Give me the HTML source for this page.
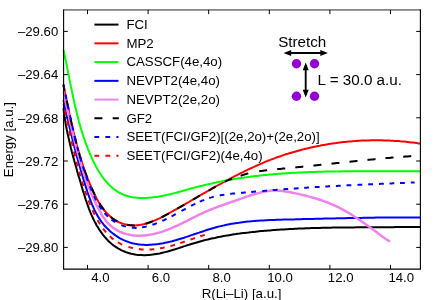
<!DOCTYPE html>
<html><head><meta charset="utf-8"><style>
html,body{margin:0;padding:0;background:#fff;}
svg{display:block;}
text{font-family:"Liberation Sans",sans-serif;fill:#000;}
</style></head><body>
<svg width="436" height="300" viewBox="0 0 436 300" style="will-change:transform">
<rect width="436" height="300" fill="#fff"/>
<defs><clipPath id="c"><rect x="62.4" y="9.95" width="357.99999999999994" height="259.15000000000003"/></clipPath></defs>
<g clip-path="url(#c)">
<path d="M63.3 108.0L63.5 109.8L63.8 111.6L64.0 113.3L64.3 115.1L64.5 116.9L64.8 118.6L65.1 120.4L65.4 122.2L65.7 123.9L66.0 125.7L66.4 127.5L66.7 129.2L67.1 131.0L67.4 132.7L67.8 134.5L68.2 136.3L68.6 138.0L69.0 139.8L69.4 141.5L69.8 143.2L70.2 145.0L70.6 146.7L71.0 148.5L71.5 150.2L71.9 151.9L72.4 153.7L72.8 155.4L73.3 157.1L73.8 158.9L74.2 160.6L74.7 162.3L75.2 164.1L75.7 165.8L76.2 167.5L76.7 169.2L77.1 171.0L77.6 172.7L78.1 174.4L78.6 176.1L79.2 177.8L79.7 179.6L80.2 181.3L80.7 183.0L81.2 184.7L81.7 186.4L82.2 188.2L82.7 189.9L83.2 191.6L83.8 193.3L84.3 195.0L84.8 196.7L85.4 198.4L85.9 200.1L86.5 201.8L87.1 203.5L87.7 205.2L88.3 206.9L88.9 208.6L89.6 210.3L90.2 211.9L90.9 213.6L91.6 215.2L92.4 216.9L93.1 218.5L93.9 220.1L94.7 221.7L95.6 223.3L96.4 224.9L97.3 226.4L98.3 227.9L99.2 229.5L100.2 230.9L101.2 232.4L102.3 233.9L103.4 235.3L104.5 236.7L105.7 238.0L106.9 239.4L108.1 240.7L109.4 241.9L110.7 243.1L112.1 244.3L113.5 245.4L115.0 246.4L116.5 247.4L118.0 248.4L119.5 249.2L121.1 250.1L122.8 250.8L124.4 251.5L126.1 252.2L127.8 252.7L129.5 253.2L131.2 253.7L133.0 254.1L134.8 254.4L136.5 254.7L138.3 254.9L140.1 255.1L141.9 255.1L143.7 255.2L145.5 255.2L147.3 255.1L149.0 255.0L150.8 254.8L152.6 254.6L154.4 254.3L156.2 254.0L157.9 253.7L159.7 253.4L161.4 253.0L163.2 252.6L164.9 252.1L166.6 251.7L168.4 251.2L170.1 250.7L171.8 250.2L173.5 249.7L175.2 249.2L177.0 248.6L178.7 248.1L180.4 247.5L182.1 247.0L183.8 246.4L185.5 245.9L187.2 245.3L188.9 244.8L190.6 244.2L192.3 243.7L194.0 243.2L195.8 242.7L197.5 242.2L199.2 241.7L200.9 241.2L202.7 240.8L204.4 240.3L206.1 239.9L207.9 239.5L209.6 239.0L211.4 238.6L213.1 238.2L214.9 237.9L216.6 237.5L218.4 237.1L220.1 236.8L221.9 236.4L223.7 236.1L225.4 235.8L227.2 235.5L229.0 235.2L230.7 234.9L232.5 234.6L234.3 234.3L236.1 234.1L237.8 233.8L239.6 233.6L241.4 233.3L243.2 233.1L244.9 232.9L246.7 232.7L248.5 232.5L250.3 232.2L252.1 232.1L253.8 231.9L255.6 231.7L257.4 231.5L259.2 231.3L261.0 231.1L262.8 231.0L264.5 230.8L266.3 230.7L268.1 230.5L269.9 230.4L271.7 230.2L273.5 230.1L275.3 230.0L277.1 229.8L278.8 229.7L280.6 229.6L282.4 229.5L284.2 229.4L286.0 229.3L287.8 229.2L289.6 229.1L291.4 229.0L293.2 228.9L294.9 228.8L296.7 228.7L298.5 228.6L300.3 228.5L302.1 228.5L303.9 228.4L305.7 228.3L307.5 228.3L309.3 228.2L311.1 228.1L312.9 228.1L314.7 228.0L316.4 228.0L318.2 227.9L320.0 227.9L321.8 227.8L323.6 227.8L325.4 227.8L327.2 227.7L329.0 227.7L330.8 227.7L332.6 227.6L334.4 227.6L336.2 227.6L338.0 227.5L339.7 227.5L341.5 227.5L343.3 227.5L345.1 227.4L346.9 227.4L348.7 227.4L350.5 227.4L352.3 227.4L354.1 227.4L355.9 227.3L357.7 227.3L359.5 227.3L361.3 227.3L363.1 227.3L364.8 227.3L366.6 227.3L368.4 227.3L370.2 227.3L372.0 227.3L373.8 227.2L375.6 227.2L377.4 227.2L379.2 227.2L381.0 227.2L382.8 227.2L384.6 227.2L386.4 227.2L388.1 227.2L389.9 227.2L391.7 227.2L393.5 227.2L395.3 227.1L397.1 227.1L398.9 227.1L400.7 227.1L402.5 227.1L404.3 227.1L406.1 227.1L407.9 227.0L409.7 227.0L411.5 227.0L413.2 227.0L415.0 226.9L416.8 226.9L418.6 226.9L420.4 226.9L422.2 226.8L424.0 226.8" fill="none" stroke="#000" stroke-width="2"/>
<path d="M63.3 84.5L63.7 86.3L64.1 88.1L64.4 89.9L64.8 91.7L65.2 93.5L65.6 95.3L66.0 97.1L66.3 98.9L66.7 100.7L67.1 102.5L67.4 104.3L67.8 106.1L68.2 107.9L68.6 109.7L69.0 111.5L69.3 113.3L69.7 115.1L70.1 116.9L70.5 118.7L70.9 120.5L71.3 122.3L71.7 124.1L72.1 125.9L72.5 127.7L72.9 129.4L73.3 131.2L73.8 133.0L74.2 134.8L74.6 136.6L75.1 138.4L75.5 140.2L76.0 141.9L76.4 143.7L76.9 145.5L77.4 147.3L77.9 149.0L78.4 150.8L78.9 152.6L79.4 154.3L79.9 156.1L80.5 157.9L81.0 159.6L81.6 161.4L82.1 163.1L82.7 164.9L83.3 166.6L83.9 168.3L84.5 170.1L85.1 171.8L85.8 173.5L86.4 175.3L87.1 177.0L87.7 178.7L88.4 180.4L89.1 182.1L89.8 183.8L90.5 185.5L91.3 187.2L92.0 188.9L92.8 190.5L93.5 192.2L94.3 193.9L95.1 195.5L96.0 197.2L96.8 198.8L97.7 200.4L98.6 202.0L99.6 203.6L100.6 205.1L101.6 206.6L102.7 208.1L103.8 209.6L104.9 211.0L106.1 212.4L107.4 213.8L108.7 215.1L110.0 216.3L111.4 217.5L112.9 218.6L114.4 219.7L116.0 220.6L117.6 221.5L119.2 222.3L120.9 223.0L122.7 223.6L124.4 224.1L126.2 224.6L128.0 224.9L129.8 225.2L131.7 225.3L133.5 225.4L135.4 225.4L137.2 225.2L139.0 225.0L140.8 224.8L142.6 224.4L144.4 224.0L146.2 223.5L148.0 223.0L149.7 222.4L151.4 221.8L153.2 221.1L154.9 220.4L156.5 219.7L158.2 218.9L159.9 218.1L161.5 217.3L163.1 216.5L164.8 215.6L166.4 214.7L168.0 213.8L169.6 212.9L171.2 212.0L172.8 211.1L174.4 210.2L176.0 209.3L177.6 208.4L179.2 207.5L180.8 206.6L182.4 205.7L184.0 204.8L185.6 203.8L187.2 202.9L188.8 202.0L190.3 201.1L191.9 200.2L193.5 199.2L195.1 198.3L196.7 197.4L198.3 196.5L199.9 195.5L201.5 194.6L203.1 193.7L204.7 192.8L206.3 191.9L207.9 191.0L209.5 190.1L211.1 189.1L212.7 188.2L214.3 187.3L215.9 186.4L217.5 185.5L219.1 184.6L220.7 183.8L222.3 182.9L223.9 182.0L225.5 181.1L227.1 180.2L228.8 179.4L230.4 178.5L232.0 177.6L233.6 176.8L235.3 175.9L236.9 175.1L238.5 174.3L240.2 173.4L241.8 172.6L243.5 171.8L245.1 171.0L246.8 170.2L248.4 169.4L250.1 168.6L251.8 167.8L253.4 167.1L255.1 166.3L256.8 165.5L258.5 164.8L260.2 164.1L261.8 163.3L263.5 162.6L265.2 161.9L266.9 161.2L268.6 160.5L270.4 159.9L272.1 159.2L273.8 158.6L275.5 157.9L277.2 157.3L279.0 156.7L280.7 156.1L282.5 155.5L284.2 154.9L285.9 154.3L287.7 153.8L289.5 153.2L291.2 152.7L293.0 152.2L294.7 151.7L296.5 151.2L298.3 150.7L300.1 150.2L301.8 149.7L303.6 149.3L305.4 148.8L307.2 148.4L309.0 148.0L310.8 147.6L312.6 147.2L314.4 146.8L316.2 146.4L318.0 146.0L319.8 145.7L321.6 145.3L323.4 145.0L325.2 144.7L327.0 144.4L328.8 144.1L330.6 143.8L332.4 143.5L334.3 143.2L336.1 143.0L337.9 142.7L339.7 142.5L341.6 142.3L343.4 142.1L345.2 141.9L347.0 141.7L348.9 141.5L350.7 141.4L352.5 141.2L354.4 141.1L356.2 140.9L358.0 140.8L359.9 140.7L361.7 140.6L363.5 140.5L365.4 140.5L367.2 140.4L369.1 140.4L370.9 140.3L372.7 140.3L374.6 140.3L376.4 140.3L378.3 140.3L380.1 140.3L381.9 140.3L383.8 140.4L385.6 140.4L387.4 140.5L389.3 140.6L391.1 140.7L393.0 140.8L394.8 140.9L396.6 141.0L398.5 141.1L400.3 141.3L402.1 141.4L403.9 141.6L405.8 141.8L407.6 142.0L409.4 142.2L411.3 142.4L413.1 142.6L414.9 142.8L416.7 143.1L418.6 143.4L420.4 143.6L422.2 143.9L424.0 144.2" fill="none" stroke="#ff0000" stroke-width="2"/>
<path d="M63.3 49.5L63.7 51.3L64.1 53.0L64.5 54.8L64.9 56.5L65.2 58.3L65.6 60.0L66.0 61.8L66.3 63.6L66.7 65.3L67.1 67.1L67.4 68.8L67.8 70.6L68.1 72.4L68.5 74.1L68.8 75.9L69.2 77.6L69.5 79.4L69.9 81.2L70.2 82.9L70.6 84.7L70.9 86.5L71.3 88.2L71.7 90.0L72.0 91.7L72.4 93.5L72.7 95.3L73.1 97.0L73.5 98.8L73.9 100.5L74.3 102.3L74.6 104.0L75.0 105.8L75.4 107.6L75.9 109.3L76.3 111.0L76.7 112.8L77.1 114.5L77.6 116.3L78.0 118.0L78.5 119.8L78.9 121.5L79.4 123.2L79.9 125.0L80.4 126.7L80.9 128.4L81.4 130.1L82.0 131.8L82.5 133.6L83.1 135.3L83.6 137.0L84.2 138.7L84.8 140.4L85.4 142.1L86.0 143.8L86.6 145.4L87.3 147.1L87.9 148.8L88.6 150.5L89.3 152.1L89.9 153.8L90.7 155.4L91.4 157.1L92.1 158.7L92.9 160.4L93.7 162.0L94.5 163.6L95.3 165.2L96.1 166.8L97.0 168.3L97.9 169.9L98.8 171.4L99.8 173.0L100.8 174.5L101.8 176.0L102.8 177.4L103.9 178.8L105.0 180.3L106.2 181.6L107.4 183.0L108.6 184.3L109.9 185.6L111.2 186.8L112.5 188.0L113.9 189.1L115.4 190.2L116.9 191.2L118.4 192.1L119.9 193.0L121.6 193.8L123.2 194.6L124.9 195.2L126.6 195.8L128.3 196.3L130.0 196.7L131.8 197.1L133.6 197.4L135.4 197.6L137.2 197.8L138.9 197.9L140.7 198.0L142.5 198.0L144.3 198.0L146.1 197.9L147.9 197.8L149.7 197.7L151.5 197.5L153.3 197.3L155.1 197.1L156.9 196.9L158.6 196.6L160.4 196.3L162.2 195.9L163.9 195.6L165.7 195.2L167.4 194.8L169.2 194.4L170.9 194.0L172.7 193.6L174.4 193.1L176.2 192.7L177.9 192.2L179.6 191.7L181.4 191.2L183.1 190.7L184.8 190.3L186.6 189.8L188.3 189.3L190.0 188.8L191.8 188.3L193.5 187.9L195.2 187.4L197.0 187.0L198.7 186.5L200.5 186.1L202.2 185.7L203.9 185.2L205.7 184.8L207.4 184.4L209.2 184.0L210.9 183.6L212.7 183.2L214.5 182.8L216.2 182.5L218.0 182.1L219.7 181.7L221.5 181.4L223.3 181.0L225.0 180.7L226.8 180.4L228.6 180.1L230.3 179.7L232.1 179.4L233.9 179.1L235.7 178.8L237.4 178.6L239.2 178.3L241.0 178.0L242.8 177.8L244.5 177.5L246.3 177.3L248.1 177.0L249.9 176.8L251.7 176.5L253.4 176.3L255.2 176.1L257.0 175.9L258.8 175.7L260.6 175.5L262.4 175.3L264.2 175.1L265.9 174.9L267.7 174.8L269.5 174.6L271.3 174.4L273.1 174.3L274.9 174.1L276.7 174.0L278.5 173.8L280.3 173.7L282.1 173.5L283.9 173.4L285.7 173.3L287.4 173.2L289.2 173.1L291.0 173.0L292.8 172.8L294.6 172.7L296.4 172.7L298.2 172.6L300.0 172.5L301.8 172.4L303.6 172.3L305.4 172.2L307.2 172.2L309.0 172.1L310.8 172.0L312.6 172.0L314.4 171.9L316.2 171.8L318.0 171.8L319.8 171.7L321.6 171.7L323.4 171.7L325.2 171.6L326.9 171.6L328.7 171.5L330.5 171.5L332.3 171.5L334.1 171.5L335.9 171.4L337.7 171.4L339.5 171.4L341.3 171.4L343.1 171.3L344.9 171.3L346.7 171.3L348.5 171.3L350.3 171.3L352.1 171.3L353.9 171.3L355.7 171.3L357.5 171.3L359.3 171.3L361.1 171.3L362.9 171.3L364.7 171.3L366.5 171.3L368.3 171.3L370.1 171.3L371.9 171.3L373.7 171.3L375.5 171.3L377.3 171.3L379.1 171.3L380.9 171.3L382.7 171.3L384.5 171.3L386.3 171.3L388.1 171.3L389.9 171.3L391.6 171.3L393.4 171.3L395.2 171.3L397.0 171.3L398.8 171.3L400.6 171.3L402.4 171.3L404.2 171.3L406.0 171.3L407.8 171.3L409.6 171.3L411.4 171.3L413.2 171.3L415.0 171.3L416.8 171.3L418.6 171.3L420.4 171.3L422.2 171.3L424.0 171.3" fill="none" stroke="#00ff00" stroke-width="2"/>
<path d="M63.3 100.0L63.7 101.7L64.1 103.5L64.5 105.2L64.9 107.0L65.2 108.7L65.6 110.4L66.0 112.2L66.4 113.9L66.8 115.6L67.2 117.4L67.6 119.1L68.0 120.8L68.4 122.6L68.8 124.3L69.3 126.1L69.7 127.8L70.1 129.5L70.5 131.2L70.9 133.0L71.3 134.7L71.8 136.4L72.2 138.2L72.6 139.9L73.1 141.6L73.5 143.4L73.9 145.1L74.4 146.8L74.8 148.5L75.3 150.3L75.7 152.0L76.2 153.7L76.7 155.4L77.1 157.1L77.6 158.9L78.1 160.6L78.5 162.3L79.0 164.0L79.5 165.7L80.0 167.4L80.5 169.1L81.0 170.9L81.5 172.6L82.0 174.3L82.5 176.0L83.0 177.7L83.5 179.4L84.0 181.1L84.6 182.8L85.1 184.5L85.6 186.2L86.2 187.9L86.7 189.6L87.2 191.3L87.8 193.0L88.4 194.7L89.0 196.4L89.6 198.0L90.2 199.7L90.8 201.4L91.5 203.0L92.1 204.7L92.8 206.3L93.6 207.9L94.3 209.6L95.1 211.2L95.9 212.7L96.8 214.3L97.6 215.9L98.6 217.4L99.5 218.9L100.5 220.4L101.5 221.8L102.6 223.2L103.7 224.6L104.9 226.0L106.1 227.3L107.3 228.6L108.6 229.8L109.9 231.0L111.3 232.2L112.6 233.3L114.1 234.4L115.5 235.4L117.0 236.4L118.5 237.4L120.0 238.3L121.6 239.1L123.2 239.9L124.8 240.6L126.5 241.3L128.1 241.9L129.8 242.5L131.5 243.0L133.3 243.4L135.0 243.8L136.8 244.1L138.5 244.4L140.3 244.6L142.1 244.7L143.9 244.8L145.6 244.9L147.4 244.9L149.2 244.8L151.0 244.8L152.8 244.6L154.5 244.5L156.3 244.3L158.1 244.1L159.8 243.8L161.6 243.5L163.3 243.2L165.1 242.8L166.8 242.4L168.6 242.1L170.3 241.6L172.0 241.2L173.7 240.7L175.5 240.3L177.2 239.8L178.9 239.3L180.6 238.7L182.3 238.2L184.0 237.7L185.7 237.1L187.4 236.6L189.1 236.0L190.7 235.4L192.4 234.9L194.1 234.3L195.8 233.7L197.5 233.1L199.2 232.6L200.9 232.0L202.6 231.5L204.3 230.9L206.0 230.3L207.6 229.8L209.3 229.3L211.1 228.8L212.8 228.3L214.5 227.8L216.2 227.3L217.9 226.8L219.6 226.4L221.4 226.0L223.1 225.6L224.8 225.2L226.6 224.8L228.3 224.4L230.1 224.1L231.8 223.8L233.6 223.5L235.3 223.2L237.1 222.9L238.9 222.7L240.6 222.4L242.4 222.2L244.2 222.0L245.9 221.8L247.7 221.6L249.5 221.4L251.3 221.2L253.0 221.1L254.8 220.9L256.6 220.8L258.4 220.7L260.1 220.6L261.9 220.5L263.7 220.4L265.5 220.3L267.3 220.2L269.0 220.1L270.8 220.0L272.6 219.9L274.4 219.9L276.2 219.8L277.9 219.8L279.7 219.7L281.5 219.7L283.3 219.6L285.1 219.6L286.8 219.5L288.6 219.5L290.4 219.4L292.2 219.4L294.0 219.4L295.7 219.3L297.5 219.3L299.3 219.2L301.1 219.2L302.9 219.1L304.7 219.1L306.4 219.1L308.2 219.0L310.0 219.0L311.8 218.9L313.6 218.9L315.3 218.8L317.1 218.8L318.9 218.8L320.7 218.7L322.5 218.7L324.2 218.6L326.0 218.6L327.8 218.5L329.6 218.5L331.4 218.5L333.1 218.4L334.9 218.4L336.7 218.3L338.5 218.3L340.3 218.3L342.1 218.2L343.8 218.2L345.6 218.2L347.4 218.1L349.2 218.1L351.0 218.1L352.7 218.0L354.5 218.0L356.3 218.0L358.1 217.9L359.9 217.9L361.6 217.9L363.4 217.8L365.2 217.8L367.0 217.8L368.8 217.7L370.6 217.7L372.3 217.7L374.1 217.7L375.9 217.6L377.7 217.6L379.5 217.6L381.2 217.6L383.0 217.6L384.8 217.5L386.6 217.5L388.4 217.5L390.2 217.5L391.9 217.5L393.7 217.5L395.5 217.4L397.3 217.4L399.1 217.4L400.8 217.4L402.6 217.4L404.4 217.4L406.2 217.4L408.0 217.4L409.7 217.4L411.5 217.4L413.3 217.4L415.1 217.4L416.9 217.4L418.7 217.4L420.4 217.4L422.2 217.4L424.0 217.4" fill="none" stroke="#0000ff" stroke-width="2"/>
<path d="M63.3 91.5L63.7 93.2L64.1 94.9L64.4 96.5L64.8 98.2L65.2 99.9L65.6 101.6L66.0 103.3L66.3 105.0L66.7 106.6L67.1 108.3L67.4 110.0L67.8 111.7L68.2 113.4L68.6 115.1L69.0 116.7L69.3 118.4L69.7 120.1L70.1 121.8L70.5 123.5L70.9 125.2L71.2 126.8L71.6 128.5L72.0 130.2L72.4 131.9L72.8 133.5L73.2 135.2L73.6 136.9L74.0 138.6L74.5 140.2L74.9 141.9L75.3 143.6L75.7 145.3L76.2 146.9L76.6 148.6L77.0 150.3L77.5 151.9L77.9 153.6L78.4 155.3L78.9 156.9L79.3 158.6L79.8 160.2L80.3 161.9L80.8 163.5L81.3 165.2L81.8 166.8L82.3 168.5L82.8 170.1L83.4 171.8L83.9 173.4L84.5 175.0L85.0 176.7L85.6 178.3L86.2 179.9L86.7 181.5L87.3 183.2L87.9 184.8L88.6 186.4L89.2 188.0L89.8 189.6L90.5 191.2L91.1 192.8L91.8 194.4L92.5 196.0L93.1 197.6L93.8 199.1L94.5 200.7L95.3 202.3L96.0 203.8L96.7 205.4L97.5 206.9L98.3 208.5L99.1 210.0L99.9 211.5L100.7 213.0L101.6 214.5L102.5 216.0L103.5 217.4L104.5 218.8L105.5 220.2L106.6 221.6L107.7 222.8L108.9 224.1L110.2 225.3L111.5 226.4L112.8 227.5L114.2 228.5L115.7 229.4L117.2 230.3L118.7 231.1L120.3 231.8L121.8 232.5L123.5 233.1L125.1 233.6L126.7 234.1L128.4 234.5L130.1 234.9L131.8 235.2L133.5 235.4L135.2 235.6L137.0 235.7L138.7 235.7L140.4 235.7L142.1 235.6L143.9 235.5L145.6 235.4L147.3 235.1L149.0 234.9L150.7 234.6L152.4 234.3L154.1 233.9L155.7 233.5L157.4 233.0L159.1 232.6L160.7 232.1L162.4 231.6L164.0 231.0L165.6 230.4L167.2 229.8L168.8 229.2L170.4 228.6L172.0 227.9L173.6 227.2L175.2 226.5L176.8 225.8L178.3 225.1L179.9 224.3L181.4 223.6L183.0 222.8L184.5 222.0L186.1 221.3L187.6 220.5L189.1 219.7L190.7 218.9L192.2 218.1L193.7 217.4L195.3 216.6L196.8 215.8L198.4 215.0L199.9 214.3L201.5 213.6L203.1 212.8L204.6 212.1L206.2 211.4L207.8 210.8L209.4 210.1L211.0 209.5L212.6 208.8L214.2 208.2L215.8 207.6L217.4 207.0L219.0 206.4L220.7 205.8L222.3 205.3L223.9 204.7L225.6 204.1L227.2 203.5L228.8 203.0L230.4 202.4L232.1 201.8L233.7 201.3L235.3 200.7L236.9 200.1L238.6 199.5L240.2 198.9L241.8 198.4L243.4 197.8L245.1 197.2L246.7 196.6L248.3 196.1L250.0 195.5L251.6 195.0L253.2 194.5L254.9 194.0L256.6 193.5L258.2 193.1L259.9 192.6L261.6 192.2L263.2 191.8L264.9 191.5L266.6 191.2L268.3 191.0L270.1 190.8L271.8 190.6L273.5 190.6L275.2 190.6L276.9 190.6L278.7 190.7L280.4 190.8L282.1 191.0L283.8 191.2L285.5 191.5L287.2 191.7L288.9 192.0L290.6 192.3L292.3 192.7L294.0 193.0L295.7 193.4L297.4 193.7L299.1 194.1L300.7 194.5L302.4 194.9L304.1 195.3L305.8 195.7L307.4 196.1L309.1 196.6L310.8 197.0L312.4 197.5L314.1 198.0L315.7 198.5L317.4 199.0L319.0 199.5L320.7 200.0L322.3 200.6L323.9 201.2L325.5 201.8L327.1 202.4L328.8 203.0L330.3 203.7L331.9 204.3L333.5 205.0L335.1 205.7L336.7 206.5L338.2 207.2L339.8 208.0L341.3 208.8L342.8 209.6L344.3 210.4L345.8 211.3L347.3 212.1L348.8 213.0L350.3 213.9L351.7 214.8L353.2 215.7L354.6 216.7L356.1 217.6L357.5 218.6L358.9 219.6L360.3 220.5L361.8 221.5L363.2 222.5L364.6 223.5L366.0 224.5L367.4 225.5L368.8 226.5L370.2 227.6L371.6 228.6L372.9 229.6L374.3 230.6L375.7 231.6L377.1 232.6L378.5 233.7L379.9 234.7L381.3 235.7L382.7 236.7L384.1 237.7L385.5 238.7L387.0 239.7L388.4 240.6L389.8 241.6" fill="none" stroke="#ee82ee" stroke-width="2.5"/>
<path d="M63.3 84.5L63.5 85.3L63.6 86.1L63.8 86.8L64.0 87.6L64.1 88.4L64.3 89.2L64.5 90.0L64.6 90.6M66.6 100.4L66.8 101.2L67.0 102.0L67.1 102.7L67.3 103.5L67.5 104.3L67.6 105.1L67.8 105.9L67.9 106.7L68.1 107.4L68.3 108.2M70.4 118.0L70.5 118.8L70.7 119.6L70.9 120.3L71.0 121.1L71.2 121.9L71.4 122.7L71.6 123.5L71.7 124.2L71.9 125.0L72.1 125.8M74.5 136.0L74.7 136.8L74.9 137.6L75.1 138.3L75.3 139.1L75.5 139.9L75.6 140.7L75.8 141.4L76.0 142.2L76.3 143.0L76.5 143.8M78.9 152.7L79.2 153.5L79.4 154.2L79.6 155.0L79.8 155.8L80.1 156.5L80.3 157.3L80.5 158.1L80.8 158.8L81.0 159.6L81.3 160.4M84.5 170.0L84.8 170.8L85.0 171.5L85.3 172.3L85.6 173.0L85.9 173.8L86.1 174.5L86.4 175.3L86.7 176.0L87.0 176.8L87.3 177.5M91.6 187.9L91.9 188.6L92.2 189.4L92.5 190.1L92.9 190.8L93.2 191.5L93.6 192.3L93.9 193.0L94.2 193.7L94.6 194.4L94.9 195.2M99.4 203.3L99.9 204.0L100.3 204.7L100.7 205.3L101.2 206.0L101.6 206.7L102.1 207.3L102.5 208.0L103.0 208.6L103.5 209.2L104.0 209.9M110.8 217.0L111.4 217.5L112.0 218.0L112.7 218.5L113.3 219.0L114.0 219.4L114.7 219.8L115.3 220.3L116.0 220.7L116.7 221.1L117.4 221.5M126.9 224.7L127.7 224.9L128.5 225.0L129.3 225.1L130.1 225.2L130.9 225.3L131.7 225.3L132.5 225.4L133.3 225.4L134.1 225.4L134.9 225.4M145.5 223.7L146.3 223.5L147.0 223.3L147.8 223.0L148.6 222.8L149.3 222.5L150.1 222.3L150.8 222.0L151.6 221.7L152.3 221.4L153.1 221.2M161.7 217.2L162.4 216.8L163.1 216.5L163.8 216.1L164.5 215.7L165.2 215.3L165.9 215.0L166.6 214.6L167.4 214.2L168.1 213.8L168.8 213.4M177.2 208.6L177.9 208.3L178.6 207.9L179.3 207.5L180.0 207.1L180.7 206.7L181.4 206.3L182.1 205.9L182.8 205.5L183.4 205.1L184.1 204.7M193.1 199.5L193.8 199.1L194.5 198.7L195.2 198.3L195.9 197.9L196.6 197.5L197.3 197.1L197.9 196.7L198.6 196.3L199.3 195.9L200.0 195.5M208.6 190.5L209.3 190.2L210.0 189.8L210.7 189.4L211.4 189.0L212.1 188.6L212.8 188.2L213.5 187.8L214.2 187.4L214.9 187.0L215.6 186.6M224.7 181.7L225.4 181.4L226.2 181.1L226.9 180.7L227.6 180.4L228.3 180.1L229.1 179.8L229.8 179.5L230.6 179.2L231.3 178.9L232.1 178.6M240.6 175.7L241.4 175.5L242.1 175.2L242.9 175.0L243.6 174.7L244.4 174.5L245.2 174.3L245.9 174.1L246.7 173.8L247.5 173.6L248.3 173.4M259.2 171.2L260.0 171.1L260.8 171.0L261.6 170.9L262.4 170.8L263.2 170.7L264.0 170.6L264.7 170.5L265.5 170.4L266.3 170.3L267.1 170.2M277.2 169.1L278.0 169.1L278.8 169.0L279.6 168.9L280.4 168.9L281.2 168.8L282.0 168.7L282.8 168.6L283.6 168.6L284.4 168.5L285.2 168.4M295.3 167.4L296.1 167.3L296.9 167.3L297.7 167.2L298.5 167.1L299.3 167.0L300.1 166.9L300.9 166.9L301.7 166.8L302.5 166.7L303.3 166.6M313.4 165.6L314.2 165.5L315.0 165.4L315.8 165.3L316.6 165.2L317.4 165.2L318.2 165.1L319.0 165.0L319.8 164.9L320.6 164.8L321.4 164.7M331.5 163.7L332.3 163.6L333.1 163.5L333.9 163.4L334.7 163.3L335.5 163.2L336.3 163.1L337.1 163.1L337.9 163.0L338.7 162.9L339.5 162.8M349.5 161.7L350.3 161.7L351.1 161.6L351.9 161.5L352.7 161.4L353.5 161.3L354.3 161.3L355.1 161.2L355.9 161.1L356.7 161.0L357.5 160.9M367.5 159.9L368.3 159.8L369.1 159.8L369.9 159.7L370.7 159.6L371.5 159.5L372.3 159.4L373.1 159.4L373.9 159.3L374.7 159.2L375.5 159.1M385.5 158.2L386.3 158.1L387.1 158.1L387.9 158.0L388.7 157.9L389.5 157.9L390.3 157.8L391.1 157.7L391.9 157.6L392.7 157.6L393.5 157.5M403.2 156.7L404.0 156.7L404.8 156.6L405.6 156.5L406.4 156.5L407.2 156.4L408.0 156.4L408.8 156.3L409.6 156.2L410.4 156.2L411.2 156.1" fill="none" stroke="#000" stroke-width="2"/>
<path d="M63.3 84.8L63.5 85.6L63.7 86.4L63.8 87.1L64.0 87.9L64.2 88.7L64.2 88.7M65.5 94.5L65.6 95.3L65.8 96.1L66.0 96.9L66.1 97.6L66.3 98.4L66.5 99.2L66.5 99.2M67.7 105.0L67.9 105.8L68.1 106.5L68.2 107.3L68.4 108.1L68.6 108.9L68.7 109.7L68.7 109.7M70.0 115.4L70.1 116.2L70.3 117.0L70.5 117.8L70.7 118.6L70.8 119.3L71.0 120.1L71.0 120.1M72.3 125.9L72.5 126.7L72.6 127.4L72.8 128.2L73.0 129.0L73.2 129.8L73.4 130.6M74.7 136.3L74.9 137.1L75.1 137.9L75.3 138.6L75.5 139.4L75.7 140.2L75.8 141.0M77.3 146.7L77.5 147.5L77.7 148.2L77.9 149.0L78.1 149.8L78.3 150.5L78.5 151.3M80.1 157.0L80.3 157.8L80.6 158.5L80.8 159.3L81.0 160.1L81.2 160.8L81.5 161.6M82.9 166.2L83.1 167.0L83.4 167.8L83.6 168.5L83.9 169.3L84.1 170.1L84.4 170.8M86.2 176.3L86.5 177.1L86.8 177.8L87.0 178.6L87.3 179.3L87.6 180.1L87.9 180.8M89.9 186.2L90.2 187.0L90.5 187.7L90.8 188.5L91.1 189.2L91.4 189.9L91.7 190.7M94.0 196.0L94.4 196.7L94.7 197.4L95.1 198.2L95.4 198.9L95.8 199.6L96.2 200.3M99.0 205.4L99.4 206.0L99.9 206.7L100.3 207.4L100.7 208.0L101.2 208.7L101.6 209.4L101.6 209.4M104.6 213.1L105.1 213.7L105.7 214.3L106.2 214.9L106.8 215.5L107.3 216.0L107.9 216.6L107.9 216.6M111.4 219.5L112.0 220.0L112.7 220.5L113.4 220.9L114.0 221.4L114.7 221.8L115.4 222.2L115.4 222.2M121.3 225.1L122.0 225.4L122.8 225.7L123.6 225.9L124.3 226.2L125.1 226.4L125.9 226.6L125.9 226.6M131.8 227.7L132.6 227.8L133.4 227.8L134.2 227.8L135.0 227.9L135.8 227.9L136.6 227.9L136.6 227.9M142.0 227.4L142.8 227.2L143.6 227.1L144.4 226.9L145.1 226.8L145.9 226.6L146.7 226.4L146.7 226.4M152.4 224.8L153.2 224.5L153.9 224.3L154.7 224.0L155.4 223.7L156.2 223.4L156.9 223.1L156.9 223.1M162.3 220.9L163.0 220.5L163.8 220.2L164.5 219.9L165.2 219.5L165.9 219.2L166.6 218.8L166.6 218.8M171.6 216.3L172.3 215.9L173.0 215.6L173.7 215.2L174.4 214.8L175.1 214.4L175.8 214.1L175.8 214.1M181.5 211.0L182.2 210.6L182.9 210.2L183.6 209.8L184.3 209.5L185.0 209.1L185.7 208.7L185.7 208.7M191.0 205.9L191.7 205.5L192.4 205.2L193.1 204.8L193.9 204.4L194.6 204.1L195.3 203.7L195.3 203.7M199.8 201.7L200.5 201.3L201.3 201.0L202.0 200.7L202.7 200.4L203.5 200.1L204.2 199.8L204.2 199.8M209.2 198.1L210.0 197.8L210.7 197.6L211.5 197.4L212.3 197.1L213.0 196.9L213.8 196.7M219.7 195.4L220.5 195.3L221.3 195.1L222.1 195.0L222.9 194.9L223.6 194.8L224.4 194.6L224.4 194.6M230.3 193.9L231.1 193.8L231.9 193.7L232.7 193.6L233.5 193.5L234.3 193.5L235.1 193.4L235.1 193.4M241.0 192.9L241.8 192.8L242.6 192.7L243.4 192.7L244.2 192.6L245.0 192.5L245.8 192.4L245.8 192.4M251.2 192.0L252.0 191.9L252.8 191.8L253.6 191.8L254.4 191.7L255.2 191.6L256.0 191.6L256.0 191.6M262.3 191.0L263.1 191.0L263.9 190.9L264.7 190.8L265.5 190.8L266.3 190.7L267.1 190.6L267.1 190.6M272.8 190.1L273.6 190.1L274.4 190.0L275.2 189.9L276.0 189.9L276.8 189.8L277.6 189.8L277.6 189.8M283.4 189.3L284.2 189.2L285.0 189.2L285.8 189.1L286.6 189.1L287.4 189.0L288.2 188.9L288.2 188.9M293.8 188.5L294.6 188.5L295.4 188.4L296.2 188.4L297.0 188.3L297.8 188.3L298.6 188.2L298.6 188.2M304.2 187.8L305.0 187.8L305.8 187.7L306.6 187.7L307.4 187.6L308.2 187.6L309.0 187.5L309.0 187.5M314.8 187.1L315.6 187.1L316.4 187.1L317.2 187.0L318.0 187.0L318.8 186.9L319.6 186.9L319.6 186.9M325.3 186.5L326.1 186.5L326.9 186.4L327.7 186.4L328.5 186.3L329.3 186.3L330.1 186.3L330.1 186.3M335.9 185.9L336.7 185.9L337.5 185.9L338.3 185.8L339.1 185.8L339.9 185.7L340.7 185.7L340.7 185.7M346.5 185.4L347.3 185.3L348.1 185.3L348.9 185.3L349.7 185.2L350.5 185.2L351.3 185.2L351.3 185.2M357.5 184.9L358.3 184.8L359.1 184.8L359.9 184.7L360.7 184.7L361.5 184.7L362.3 184.6L362.3 184.6M368.2 184.4L369.0 184.3L369.8 184.3L370.6 184.3L371.4 184.2L372.2 184.2L373.0 184.2L373.0 184.2M379.0 183.9L379.8 183.9L380.6 183.8L381.4 183.8L382.2 183.8L383.0 183.7L383.8 183.7L383.8 183.7M389.5 183.5L390.3 183.4L391.1 183.4L391.9 183.4L392.7 183.3L393.5 183.3L394.3 183.3L394.3 183.3M400.0 183.1L400.8 183.0L401.6 183.0L402.4 183.0L403.2 182.9L404.0 182.9L404.8 182.9L404.8 182.9M410.8 182.6L411.5 182.6L412.3 182.6L413.1 182.6L413.9 182.5L414.6 182.5" fill="none" stroke="#0000ff" stroke-width="2"/>
<path d="M63.3 104.0L63.5 104.8L63.5 105.0M64.8 110.5L65.0 111.3L65.2 112.1L65.4 112.8L65.5 113.6L65.7 114.4L65.9 115.2L65.9 115.2M67.1 120.7L67.3 121.5L67.5 122.3L67.7 123.1L67.8 123.9L68.0 124.7L68.2 125.4L68.2 125.4M69.4 131.0L69.6 131.8L69.7 132.6L69.9 133.4L70.1 134.1L70.2 134.9L70.4 135.7M71.6 141.3L71.8 142.0L72.0 142.8L72.2 143.6L72.3 144.4L72.5 145.2L72.7 145.9M74.0 151.5L74.2 152.3L74.3 153.1L74.5 153.8L74.7 154.6L74.9 155.4L75.1 156.2M76.5 161.7L76.7 162.5L76.9 163.3L77.1 164.0L77.3 164.8L77.5 165.6L77.7 166.3M79.1 171.7L79.3 172.5L79.5 173.2L79.8 174.0L80.0 174.8L80.2 175.5L80.4 176.3M82.0 181.4L82.2 182.2L82.4 182.9L82.7 183.7L82.9 184.4L83.2 185.2L83.4 186.0M85.1 191.0L85.4 191.8L85.6 192.5L85.9 193.3L86.2 194.0L86.4 194.8L86.7 195.5M88.5 200.3L88.8 201.0L89.1 201.8L89.4 202.5L89.7 203.3L90.0 204.0L90.3 204.8M92.7 210.2L93.0 211.0L93.3 211.7L93.7 212.4L94.0 213.2L94.4 213.9L94.7 214.6M97.6 220.2L98.0 220.9L98.4 221.6L98.8 222.3L99.3 223.0L99.7 223.6L100.1 224.3M103.1 228.7L103.6 229.3L104.1 230.0L104.6 230.6L105.1 231.2L105.6 231.8L106.1 232.4L106.1 232.4M109.8 236.3L110.4 236.8L111.0 237.3L111.6 237.9L112.2 238.4L112.8 238.9L113.5 239.4L113.5 239.4M117.9 242.3L118.6 242.7L119.3 243.1L120.0 243.4L120.7 243.8L121.4 244.1L122.2 244.5L122.2 244.5M128.4 246.9L129.2 247.1L129.9 247.3L130.7 247.5L131.5 247.7L132.3 247.9L133.0 248.1L133.0 248.1M138.9 249.1L139.7 249.2L140.5 249.3L141.3 249.4L142.1 249.4L142.9 249.5L143.7 249.5L143.7 249.5M149.5 249.5L150.3 249.5L151.1 249.5L151.9 249.4L152.7 249.3L153.5 249.3L154.3 249.2L154.3 249.2M160.0 248.4L160.8 248.2L161.6 248.1L162.4 247.9L163.1 247.8L163.9 247.6L164.7 247.5L164.7 247.5M170.3 246.1L171.1 245.9L171.8 245.7L172.6 245.4L173.4 245.2L174.1 245.0L174.9 244.8L174.9 244.8M180.3 243.1L181.1 242.8L181.8 242.6L182.6 242.3L183.3 242.1L184.1 241.8L184.9 241.6L184.9 241.6M190.5 239.6L191.3 239.3L192.0 239.1L192.8 238.8L193.5 238.6L194.3 238.3L195.0 238.0L195.0 238.0M200.2 236.3L201.0 236.0L201.8 235.8L202.5 235.6L203.3 235.3L204.1 235.1L204.8 234.9L204.8 234.9" fill="none" stroke="#ff0000" stroke-width="2"/>
</g>
<path d="M63.6 9.549999999999999 V269.1 H420.4 V9.549999999999999" fill="none" stroke="#000" stroke-width="1.1" stroke-linejoin="miter"/>
<path d="M63.1 9.95 H420.9" fill="none" stroke="#000" stroke-width="0.85"/>
<path d="M87.50 269.10 v-4.2 M87.50 9.95 v4.2" stroke="#000" stroke-width="1"/>
<text x="100.40" y="282.3" font-size="13.2" text-anchor="middle">4.0</text>
<path d="M148.10 269.10 v-4.2 M148.10 9.95 v4.2" stroke="#000" stroke-width="1"/>
<text x="161.00" y="282.3" font-size="13.2" text-anchor="middle">6.0</text>
<path d="M208.70 269.10 v-4.2 M208.70 9.95 v4.2" stroke="#000" stroke-width="1"/>
<text x="221.60" y="282.3" font-size="13.2" text-anchor="middle">8.0</text>
<path d="M269.30 269.10 v-4.2 M269.30 9.95 v4.2" stroke="#000" stroke-width="1"/>
<text x="280.10" y="282.3" font-size="13.2" text-anchor="middle">10.0</text>
<path d="M329.90 269.10 v-4.2 M329.90 9.95 v4.2" stroke="#000" stroke-width="1"/>
<text x="340.70" y="282.3" font-size="13.2" text-anchor="middle">12.0</text>
<path d="M390.50 269.10 v-4.2 M390.50 9.95 v4.2" stroke="#000" stroke-width="1"/>
<text x="401.30" y="282.3" font-size="13.2" text-anchor="middle">14.0</text>
<path d="M63.60 31.40 h4.2 M420.40 31.40 h-4.2" stroke="#000" stroke-width="1"/>
<text x="58.3" y="36.10" font-size="13.2" text-anchor="end">–29.60</text>
<path d="M63.60 74.60 h4.2 M420.40 74.60 h-4.2" stroke="#000" stroke-width="1"/>
<text x="58.3" y="79.30" font-size="13.2" text-anchor="end">–29.64</text>
<path d="M63.60 117.80 h4.2 M420.40 117.80 h-4.2" stroke="#000" stroke-width="1"/>
<text x="58.3" y="122.50" font-size="13.2" text-anchor="end">–29.68</text>
<path d="M63.60 161.00 h4.2 M420.40 161.00 h-4.2" stroke="#000" stroke-width="1"/>
<text x="58.3" y="165.70" font-size="13.2" text-anchor="end">–29.72</text>
<path d="M63.60 204.20 h4.2 M420.40 204.20 h-4.2" stroke="#000" stroke-width="1"/>
<text x="58.3" y="208.90" font-size="13.2" text-anchor="end">–29.76</text>
<path d="M63.60 247.40 h4.2 M420.40 247.40 h-4.2" stroke="#000" stroke-width="1"/>
<text x="58.3" y="252.10" font-size="13.2" text-anchor="end">–29.80</text>

<path d="M94.4 24.60 H118.5" stroke="#000" stroke-width="2"/>
<text x="126.4" y="28.80" font-size="13.25">FCI</text>
<path d="M94.4 43.35 H118.5" stroke="#ff0000" stroke-width="2"/>
<text x="126.4" y="47.55" font-size="13.25">MP2</text>
<path d="M94.4 62.10 H118.5" stroke="#00ff00" stroke-width="2"/>
<text x="126.4" y="66.30" font-size="13.25">CASSCF(4e,4o)</text>
<path d="M94.4 80.85 H118.5" stroke="#0000ff" stroke-width="2"/>
<text x="126.4" y="85.05" font-size="13.25">NEVPT2(4e,4o)</text>
<path d="M94.4 99.60 H118.5" stroke="#ee82ee" stroke-width="2"/>
<text x="126.4" y="103.80" font-size="13.25">NEVPT2(2e,2o)</text>
<path d="M94.4 118.35 H118.9" stroke="#000" stroke-width="2" stroke-dasharray="8 10.3"/>
<text x="126.4" y="122.55" font-size="13.25">GF2</text>
<path d="M94.4 137.10 H118.5" stroke="#0000ff" stroke-width="2" stroke-dasharray="4.8 6.2"/>
<text x="126.4" y="141.30" font-size="13.25">SEET(FCI/GF2)[(2e,2o)+(2e,2o)]</text>
<path d="M94.4 155.85 H118.5" stroke="#ff0000" stroke-width="2" stroke-dasharray="4.8 6.2"/>
<text x="126.4" y="160.05" font-size="13.25">SEET(FCI/GF2)(4e,4o)</text>

<text x="302.2" y="47.2" font-size="15.2" text-anchor="middle">Stretch</text>
<path d="M289 53 H323" stroke="#000" stroke-width="1.8"/>
<path d="M283.6 53 l7.6 -3 v6z M327.9 53 l-7.6 -3 v6z" fill="#000"/>
<circle cx="296.5" cy="63.8" r="4.7" fill="#9400d3"/>
<circle cx="314.5" cy="63.8" r="4.7" fill="#9400d3"/>
<circle cx="296.5" cy="96.3" r="4.7" fill="#9400d3"/>
<circle cx="314.5" cy="96.3" r="4.7" fill="#9400d3"/>
<path d="M305.7 68 V92" stroke="#000" stroke-width="1.9"/>
<path d="M305.7 62.6 l-3 7.6 h6z M305.7 97.4 l-3 -7.6 h6z" fill="#000"/>
<text x="317.6" y="85" font-size="15.2">L = 30.0 a.u.</text>
<text x="241.6" y="298.3" font-size="13.3" text-anchor="middle">R(Li–Li) [a.u.]</text>
<text transform="translate(13.1 139.6) rotate(-90)" font-size="13.25" text-anchor="middle">Energy [a.u.]</text>
</svg>
</body></html>
